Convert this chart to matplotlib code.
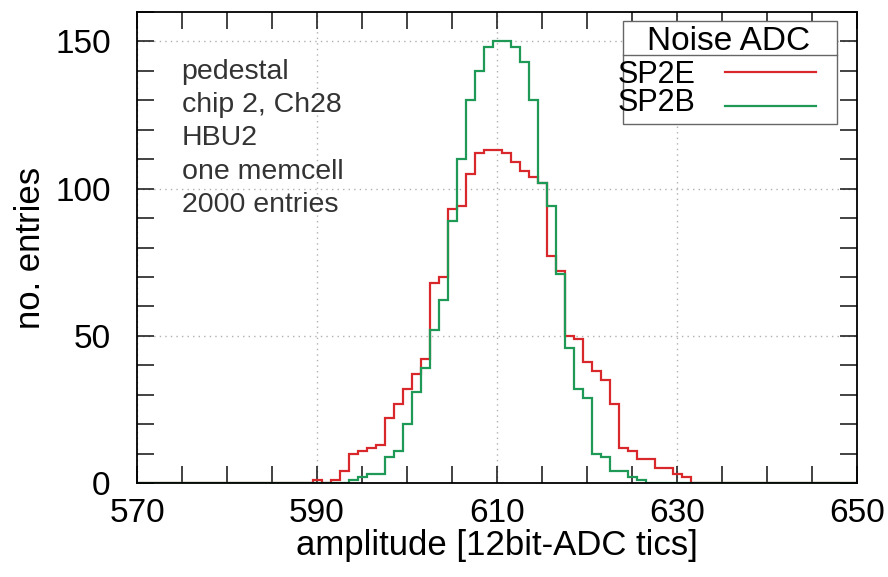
"""Pedestal noise histogram, chip 2 Ch28, two ADC settings."""
import numpy as np
import matplotlib
matplotlib.use('Agg')
import matplotlib.pyplot as plt
from matplotlib.ticker import MultipleLocator
from matplotlib.patches import Rectangle

plt.rcParams['font.family'] = ['Liberation Sans', 'DejaVu Sans']

# --- data (1 ADC tic bins) ---
SP2E_BINS = list(range(590, 632))
SP2E_COUNTS = [1, 0, 1, 4, 10, 11, 12, 13, 22, 27, 32, 37, 42, 68, 70, 93, 94,
               105, 112, 113, 113, 112, 109, 106, 104, 102, 77, 72, 50, 49,
               41, 38, 35, 27, 12, 11, 8, 8, 5, 5, 3, 2]
SP2B_BINS = list(range(594, 627))
SP2B_COUNTS = [1, 2, 3, 3, 9, 11, 20, 31, 39, 52, 62, 89, 110, 130, 140, 148,
               150, 150, 148, 143, 130, 102, 94, 71, 46, 32, 29, 10, 9, 4, 4,
               2, 1]
LABELS = ['SP2E', 'SP2B']
COLORS = ['#d8282c', '#1f9a56']
LEGEND_TITLE = 'Noise ADC'
INFO_LINES = ['pedestal', 'chip 2, Ch28', 'HBU2', 'one memcell', '2000 entries']
X_TICKS = [570, 590, 610, 630, 650]
Y_TICKS = [0, 50, 100, 150]

X_MIN, X_MAX = 570, 650
Y_MIN, Y_MAX = 0, 160


def full_hist(bins, counts):
    """Put sparse bin counts onto the full 570..650 range (zeros elsewhere)."""
    centers = np.arange(X_MIN, X_MAX + 1)
    vals = np.zeros(len(centers))
    for b, c in zip(bins, counts):
        vals[b - X_MIN] = c
    edges = np.append(centers - 0.5, centers[-1] + 0.5)
    return vals, edges


fig = plt.figure(figsize=(8.88, 5.77), dpi=100)
ax = fig.add_axes([0.1543, 0.1629, 0.8108, 0.8163])

# grid first so the histograms sit above it
ax.grid(True, which='major', color='#b0b0b0', linestyle=(0, (1, 3)), linewidth=1.0)
ax.set_axisbelow(True)

lines_y = [0.873, 0.800]
base_y = [0.8486, 0.7905]
for bins, counts, lab, col in [(SP2E_BINS, SP2E_COUNTS, LABELS[0], COLORS[0]),
                               (SP2B_BINS, SP2B_COUNTS, LABELS[1], COLORS[1])]:
    vals, edges = full_hist(bins, counts)
    ax.stairs(vals, edges, color=col, linewidth=1.6, label=lab)

ax.set_xlim(X_MIN, X_MAX)
ax.set_ylim(Y_MIN, Y_MAX)
ax.set_xticks(X_TICKS)
ax.set_yticks(Y_TICKS)
ax.xaxis.set_minor_locator(MultipleLocator(5))
ax.yaxis.set_minor_locator(MultipleLocator(10))
ax.tick_params(which='both', direction='in', top=True, right=True,
               length=12, width=1.2, color='#222222')
ax.tick_params(axis='x', which='major', labelsize=24, pad=11)
ax.tick_params(axis='y', which='major', labelsize=24, pad=19)
for sp in ax.spines.values():
    sp.set_linewidth(1.3)

ax.set_xlabel('amplitude [12bit-ADC tics]', fontsize=25, labelpad=0)
ax.set_ylabel('no. entries', fontsize=25, labelpad=6)

# info text block
info_base = [0.8577, 0.7877, 0.7166, 0.6454, 0.5754]
for txt, yb in zip(INFO_LINES, info_base):
    ax.text(0.062, yb, txt, transform=ax.transAxes, fontsize=20.5,
            color='#333333', va='baseline', ha='left')

# gnuplot-style key: boxed title over the entries
ax.add_patch(Rectangle((0.6746, 0.7622), 0.2972, 0.2193, transform=ax.transAxes,
                       facecolor='white', edgecolor='#666666', linewidth=1.0,
                       zorder=5))
ax.plot([0.6746, 0.9718], [0.9087, 0.9087], transform=ax.transAxes,
        color='#666666', linewidth=1.0, zorder=6)
ax.text(0.822, 0.9193, LEGEND_TITLE, transform=ax.transAxes, fontsize=24,
        ha='center', va='baseline', zorder=7)
for lab, col, ly, yb in zip(LABELS, COLORS, lines_y, base_y):
    ax.text(0.668, yb, lab, transform=ax.transAxes, fontsize=22,
            ha='left', va='baseline', zorder=7)
    ax.plot([0.8167, 0.943], [ly, ly], transform=ax.transAxes, color=col,
            linewidth=1.6, zorder=7)

fig.savefig('out.png', dpi=100)
